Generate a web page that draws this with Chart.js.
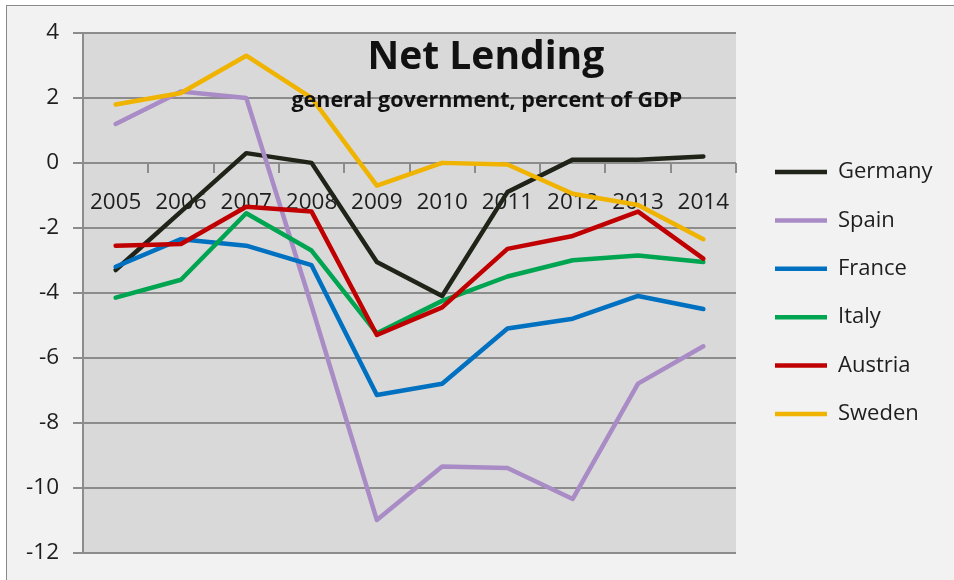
<!DOCTYPE html>
<html lang="en">
<head>
<meta charset="UTF-8">
<title>Net Lending</title>
<script src="https://cdn.jsdelivr.net/npm/chart.js@4.4.1/dist/chart.umd.min.js"></script>
<style>
  html, body { margin: 0; padding: 0; background: #ffffff; }
  body { position: relative; width: 954px; height: 580px; overflow: hidden; }
  .chart-frame {
    position: absolute; left: 6px; top: 5px; width: 980px; height: 600px;
    border: 1px solid #8a8a8a; background: #f2f2f2; box-sizing: border-box;
  }
  .chart-box { position: absolute; left: 0; top: 0; width: 954px; height: 580px; }
</style>
</head>
<body>
<div class="chart-frame"></div>
<div class="chart-box">
  <canvas id="net-lending-chart" width="954" height="580"></canvas>
</div>
<script>
// chart data (percent of GDP)
const years = ['2005', '2006', '2007', '2008', '2009', '2010', '2011', '2012', '2013', '2014'];
const germany = [-3.3, -1.5, 0.3, 0.0, -3.05, -4.1, -0.9, 0.1, 0.1, 0.2];
const spain = [1.2, 2.2, 2.0, -4.4, -11.0, -9.35, -9.4, -10.35, -6.8, -5.65];
const france = [-3.2, -2.35, -2.55, -3.15, -7.15, -6.8, -5.1, -4.8, -4.1, -4.5];
const italy = [-4.15, -3.6, -1.55, -2.7, -5.25, -4.25, -3.5, -3.0, -2.85, -3.05];
const austria = [-2.55, -2.5, -1.35, -1.5, -5.3, -4.45, -2.65, -2.25, -1.5, -2.95];
const sweden = [1.8, 2.15, 3.3, 2.0, -0.7, 0.0, -0.05, -0.95, -1.3, -2.35];
const seriesNames = ['Germany', 'Spain', 'France', 'Italy', 'Austria', 'Sweden'];
const yMin = -12;
const yMax = 4;
const yStep = 2;
const titleText = 'Net Lending';
const subtitleText = 'general government, percent of GDP';

// line colours, same order as seriesNames
const seriesColors = ['#1f2318', '#a98bc6', '#0070c0', '#00a551', '#c00000', '#efb300'];

let netLendingChart = null;

document.addEventListener('DOMContentLoaded', function() {
  Chart.defaults.font.family = "'Open Sans', sans-serif";
  Chart.defaults.color = '#1e1e1e';
  createNetLendingChart();
});

// grey plot area behind the lines
const plotBackground = {
  id: 'plotBackground',
  beforeDraw(chart) {
    const { ctx, chartArea } = chart;
    ctx.save();
    ctx.fillStyle = '#d9d9d9';
    ctx.fillRect(chartArea.left, chartArea.top, chartArea.right - chartArea.left, chartArea.bottom - chartArea.top);
    ctx.restore();
  }
};

// title and subtitle sit inside the plot area
const innerTitle = {
  id: 'innerTitle',
  afterDatasetsDraw(chart) {
    const { ctx, chartArea } = chart;
    const cx = chartArea.left + (chartArea.right - chartArea.left) * 0.617;
    ctx.save();
    ctx.fillStyle = '#111111';
    ctx.textAlign = 'center';
    ctx.textBaseline = 'alphabetic';
    ctx.font = "bold 39px 'Open Sans', sans-serif";
    ctx.fillText(titleText, cx, chartArea.top + 36);
    ctx.font = "bold 21.5px 'Open Sans', sans-serif";
    ctx.fillText(subtitleText, cx + 1, chartArea.top + 74);
    ctx.restore();
  }
};

// move the legend a little away from the plot and let it run to the edge
const legendNudge = {
  id: 'legendNudge',
  afterLayout(chart) {
    const legend = chart.legend;
    if (legend) {
      legend.left += 12.6;
      legend.right = chart.width;
      legend.width = legend.right - legend.left;
    }
  }
};

function createNetLendingChart() {
  const seriesValues = [germany, spain, france, italy, austria, sweden];

  // later series are drawn on top, like the original
  const datasets = seriesNames.map((name, i) => ({
    label: name,
    data: seriesValues[i],
    borderColor: seriesColors[i],
    backgroundColor: seriesColors[i],
    borderWidth: 4.5,
    borderCapStyle: 'round',
    borderJoinStyle: 'round',
    pointRadius: 0,
    pointHoverRadius: 0,
    tension: 0,
    fill: false,
    order: seriesNames.length - i
  }));

  const ctx = document.getElementById('net-lending-chart').getContext('2d');

  if (netLendingChart) {
    netLendingChart.destroy();
  }

  netLendingChart = new Chart(ctx, {
    type: 'line',
    data: {
      labels: years,
      datasets: datasets
    },
    options: {
      responsive: false,
      animation: false,
      layout: {
        padding: { top: 33, right: 58, bottom: 27, left: 0 }
      },
      scales: {
        x: {
          type: 'category',
          position: { y: 0 },
          offset: true,
          grid: {
            drawOnChartArea: false,
            offset: true,
            tickLength: 10,
            color: '#8c8c8c',
            lineWidth: 2
          },
          border: { display: false },
          ticks: {
            padding: 16,
            maxRotation: 0,
            autoSkip: false,
            color: '#1e1e1e',
            font: { size: 22.5 }
          },
          afterFit: function(scale) {
            scale.height = 0;
          }
        },
        y: {
          min: yMin,
          max: yMax,
          ticks: {
            stepSize: yStep,
            padding: 14,
            color: '#1e1e1e',
            font: { size: 22.5 }
          },
          grid: {
            color: '#8c8c8c',
            lineWidth: 2,
            tickLength: 10
          },
          border: { color: '#8c8c8c', width: 2 },
          afterFit: function(scale) {
            scale.width = 83;
          }
        }
      },
      plugins: {
        title: { display: false },
        tooltip: { enabled: false },
        legend: {
          position: 'right',
          align: 'center',
          maxWidth: 160,
          labels: {
            usePointStyle: true,
            pointStyle: 'line',
            pointStyleWidth: 52,
            padding: 26.4,
            color: '#1e1e1e',
            font: { size: 22 },
            sort: (a, b) => a.datasetIndex - b.datasetIndex
          }
        }
      }
    },
    plugins: [plotBackground, innerTitle, legendNudge]
  });
}
</script>
</body>
</html>
